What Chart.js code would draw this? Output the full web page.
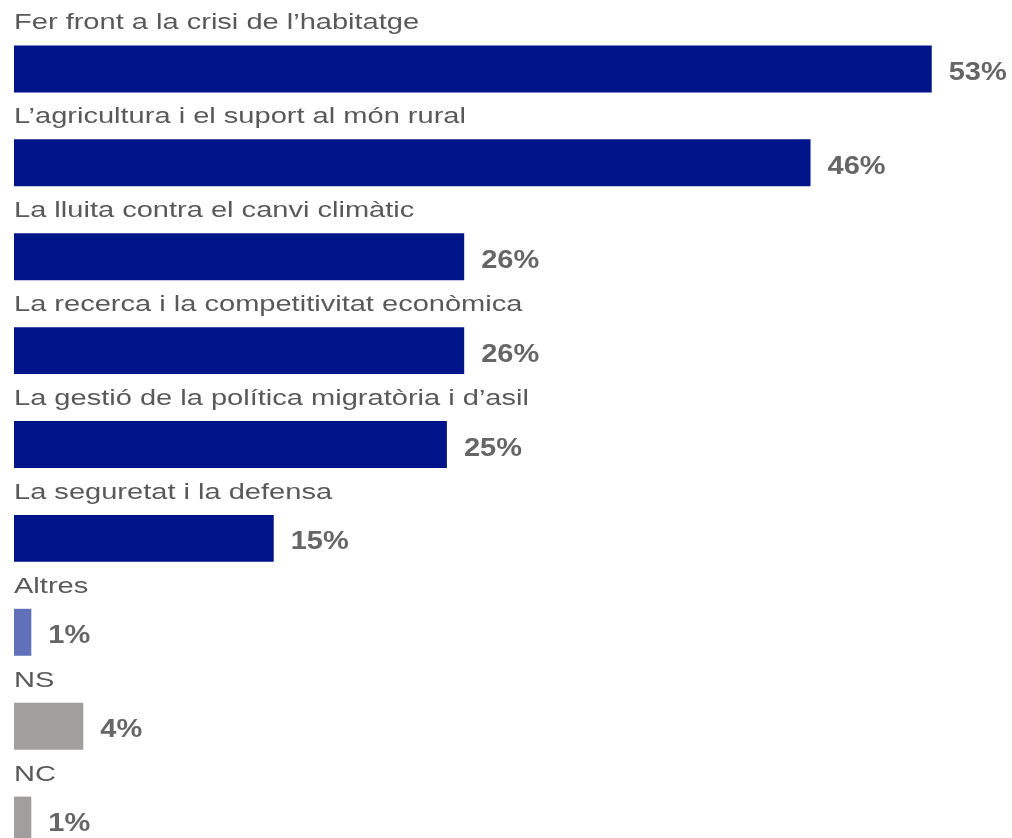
<!DOCTYPE html>
<html>
<head>
<meta charset="utf-8">
<script src="https://cdn.jsdelivr.net/npm/chart.js@4"></script>
<style>
  html, body { margin: 0; padding: 0; background: #fff; overflow: hidden; }
  #wrap { position: relative; width: 1012px; height: 867px; }
</style>
</head>
<body>
<div id="wrap"><canvas id="barChart"></canvas></div>
<script>
const categories = [
    'Fer front a la crisi de l\u2019habitatge',
    'L\u2019agricultura i el suport al món rural',
    'La lluita contra el canvi climàtic',
    'La recerca i la competitivitat econòmica',
    'La gestió de la política migratòria i d\u2019asil',
    'La seguretat i la defensa',
    'Altres',
    'NS',
    'NC'
];
const values = [53, 46, 26, 26, 25, 15, 1, 4, 1];
const barColors = ['#001489', '#001489', '#001489', '#001489', '#001489', '#001489', '#6170b8', '#a19f9d', '#a19f9d'];

// the source picture has its text stretched sideways, so draw it scaled
function wideText(ctx, text, x, y, sx) {
    ctx.save();
    ctx.translate(x, y);
    ctx.scale(sx, 1);
    ctx.fillText(text, 0, 0);
    ctx.restore();
}

const labelsPlugin = {
    id: 'barLabels',
    afterDatasetsDraw(chart) {
        const ctx = chart.ctx;
        const meta = chart.getDatasetMeta(0);
        ctx.save();
        ctx.textAlign = 'left';
        ctx.textBaseline = 'alphabetic';
        meta.data.forEach(function (bar, i) {
            const top = bar.y - bar.height / 2;
            // category text above the bar
            ctx.font = '22px "Liberation Sans", Arial, sans-serif';
            ctx.fillStyle = '#595959';
            wideText(ctx, categories[i], bar.base, top - 16, 1.32);
            // value to the right
            ctx.font = 'bold 25px "Liberation Sans", Arial, sans-serif';
            ctx.fillStyle = '#666666';
            wideText(ctx, values[i] + '%', bar.x + 17, bar.y + 11, 1.16);
        });
        ctx.restore();
    }
};

document.addEventListener('DOMContentLoaded', function () {
    const ctx = document.getElementById('barChart').getContext('2d');
    new Chart(ctx, {
        type: 'bar',
        data: {
            labels: categories,
            datasets: [{
                data: values,
                backgroundColor: barColors,
                barPercentage: 1,
                categoryPercentage: 0.5
            }]
        },
        options: {
            indexAxis: 'y',
            responsive: true,
            maintainAspectRatio: false,
            animation: false,
            layout: { padding: { left: 14, right: 11, top: 22, bottom: 0 } },
            plugins: {
                legend: { display: false },
                tooltip: { enabled: false }
            },
            scales: {
                x: { display: false, min: 0, max: 57 },
                y: { display: false }
            }
        },
        plugins: [labelsPlugin]
    });
});
</script>
</body>
</html>
